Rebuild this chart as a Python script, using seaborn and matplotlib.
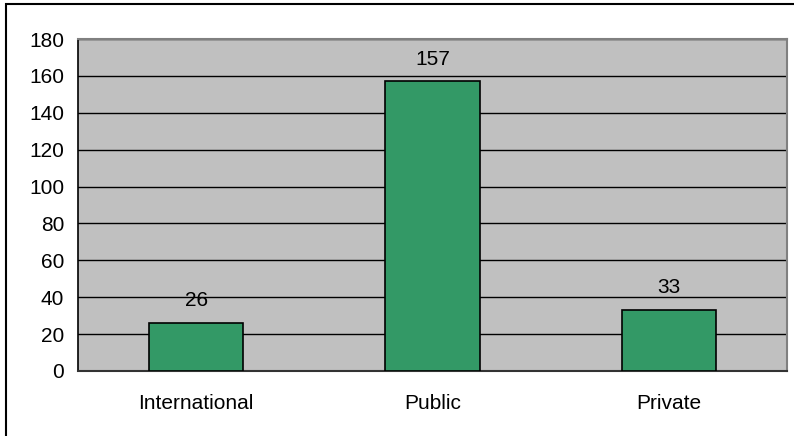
import matplotlib
matplotlib.use("Agg")
import matplotlib.pyplot as plt
import seaborn as sns
import pandas as pd
from matplotlib.patches import Rectangle

categories = ["International", "Public", "Private"]
counts = [26, 157, 33]
y_ticks = [0, 20, 40, 60, 80, 100, 120, 140, 160, 180]

sns.set_style("white")
plt.rcParams["font.family"] = ["Liberation Sans", "DejaVu Sans"]
plt.rcParams["text.color"] = "black"
plt.rcParams["xtick.color"] = "black"
plt.rcParams["ytick.color"] = "black"

df = pd.DataFrame({"category": categories, "count": counts})

W, H = 794, 436
fig = plt.figure(figsize=(W / 100, H / 100), dpi=100)
ax = fig.add_axes([78 / W, 1 - 371 / H, (787 - 78) / W, (371 - 39) / H])

sns.barplot(data=df, x="category", y="count", color="#339966", width=0.4,
            edgecolor="black", linewidth=1.2, saturation=1, ax=ax, zorder=3)

ax.set_facecolor("#C0C0C0")
ax.set_ylim(0, 180)
ax.set_xlim(-0.5, len(categories) - 0.5)
ax.set_yticks(y_ticks)
ax.yaxis.grid(True, color="black", linewidth=1)
ax.set_axisbelow(True)
ax.set_xlabel("")
ax.set_ylabel("")

# category labels centred, tick marks at category boundaries
ax.set_xticks(range(len(categories)))
ax.set_xticklabels(categories, fontsize=15)
ax.tick_params(axis="x", length=0, pad=16.5)
ax.set_xticks([i - 0.5 for i in range(len(categories) + 1)], minor=True)
ax.tick_params(axis="x", which="minor", length=6, width=1.2, color="black", direction="out")
ax.tick_params(axis="y", length=6, width=1, color="black", direction="out", labelsize=15, pad=4)

for side in ["top", "right"]:
    ax.spines[side].set_color("#808080")
    ax.spines[side].set_linewidth(1.5)
ax.spines["left"].set_color("black")
ax.spines["left"].set_linewidth(1.2)
ax.spines["bottom"].set_color("#333333")
ax.spines["bottom"].set_linewidth(1.5)

for i, v in enumerate(counts):
    ax.annotate(str(v), (i, v), xytext=(0, 16), textcoords="offset points",
                ha="center", va="center", fontsize=15, zorder=4)

# outer frame around the chart
fig.patches.append(Rectangle((6 / W, -0.1), 1.2, 1 - 4 / H + 0.1, transform=fig.transFigure,
                             fill=False, edgecolor="black", linewidth=1.5))

fig.savefig("out.png", dpi=100)
